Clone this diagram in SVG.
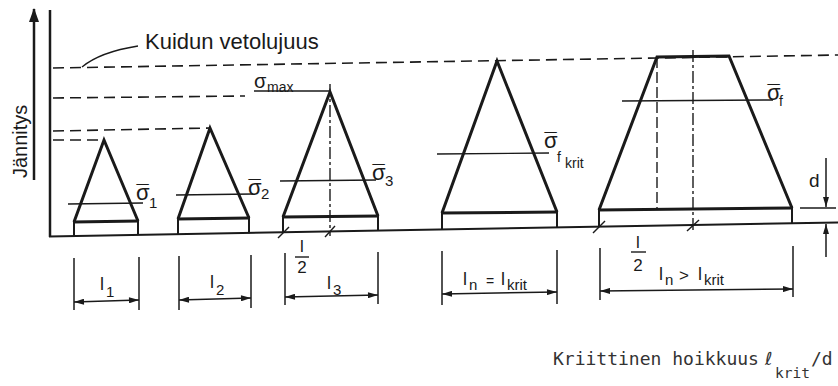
<svg xmlns="http://www.w3.org/2000/svg" width="838" height="386" viewBox="0 0 838 386">
<style>
.sh{fill:none;stroke:#1a1a1a;stroke-width:3;stroke-linejoin:miter}
.band{fill:none;stroke:#1a1a1a;stroke-width:2}
.thin{fill:none;stroke:#1a1a1a;stroke-width:1.4}
.dash{fill:none;stroke:#1a1a1a;stroke-width:1.6;stroke-dasharray:11 6}
.ctr{fill:none;stroke:#1a1a1a;stroke-width:1.4;stroke-dasharray:12 3 3 3}
.vd{fill:none;stroke:#1a1a1a;stroke-width:1.4;stroke-dasharray:11 4}
.ext{fill:none;stroke:#1a1a1a;stroke-width:1.5}
.dim{fill:none;stroke:#1a1a1a;stroke-width:1.5;marker-start:url(#ah);marker-end:url(#ah)}
.t{font-family:"Liberation Sans",Arial,sans-serif;fill:#1a1a1a}
.sg{font-family:"Liberation Sans",Arial,sans-serif;fill:#1a1a1a;font-size:22px}
.mb{font-family:"Liberation Sans",Arial,sans-serif;fill:#1a1a1a;font-size:22px;text-anchor:middle}
.mono{font-family:"DejaVu Sans Mono","Liberation Mono",monospace;fill:#333}
</style>
<defs>
<marker id="ah" viewBox="0 0 10 6" refX="10" refY="3" markerWidth="11" markerHeight="6" markerUnits="userSpaceOnUse" orient="auto-start-reverse">
<path d="M0,0 L10,3 L0,6 z" fill="#1a1a1a"/>
</marker>
<marker id="big" viewBox="0 0 14 10" refX="13" refY="5" markerWidth="15" markerHeight="10" markerUnits="userSpaceOnUse" orient="auto">
<path d="M0,0 L14,5 L0,10 z" fill="#1a1a1a"/>
</marker>
</defs>
<rect width="838" height="386" fill="#fff"/>

<g id="axes">
<line x1="34" y1="180" x2="34" y2="9" stroke="#1a1a1a" stroke-width="2.5" marker-end="url(#big)"/>
<text class="t" font-size="20" transform="translate(27,178) rotate(-90)">Jännitys</text>
<line x1="50" y1="10" x2="50" y2="237" stroke="#1a1a1a" stroke-width="2.5"/>
<line x1="49" y1="236.5" x2="838" y2="222.5" stroke="#1a1a1a" stroke-width="2"/>
</g>

<g id="levels">
<line class="dash" x1="53" y1="68" x2="838" y2="55"/>
<line class="dash" x1="53" y1="98" x2="245" y2="96"/>
<line class="dash" x1="53" y1="131" x2="210" y2="128"/>
<line class="dash" x1="53" y1="140" x2="102" y2="140"/>
<text class="t" font-size="22" x="145" y="49">Kuidun vetolujuus</text>
<text class="t" font-size="20" x="254" y="88">σ</text>
<text class="t" font-size="14" x="267" y="92">max</text>
<line class="thin" x1="254" y1="91" x2="330" y2="91"/>
</g>

<g id="fibre1">
<polyline class="sh" points="74,222 104,140 138,221"/>
<line class="sh" x1="73" y1="222" x2="139" y2="221"/>
<line class="band" x1="74" y1="222" x2="74" y2="236"/>
<line class="band" x1="138" y1="221" x2="138" y2="235"/>
<line class="thin" x1="68" y1="204" x2="143" y2="203"/>
<text class="sg" x="136" y="200">σ</text>
<text class="mb" x="142.5" y="201">¯</text>
<text class="t" font-size="15" x="149" y="208">1</text>
</g>

<g id="fibre2">
<polyline class="sh" points="178,219 210,128 249,218"/>
<line class="sh" x1="177" y1="219" x2="250" y2="218"/>
<line class="band" x1="178" y1="219" x2="178" y2="234.5"/>
<line class="band" x1="249" y1="218" x2="249" y2="233.2"/>
<line class="thin" x1="176" y1="195" x2="253" y2="194"/>
<text class="sg" x="248" y="195">σ</text>
<text class="mb" x="254.5" y="196">¯</text>
<text class="t" font-size="15" x="261" y="199">2</text>
</g>

<g id="fibre3">
<polyline class="sh" points="283,217 330,92 378,216"/>
<line class="sh" x1="282" y1="217" x2="379" y2="216"/>
<line class="band" x1="283" y1="217" x2="283" y2="232.6"/>
<line class="band" x1="378" y1="216" x2="378" y2="231"/>
<line class="ctr" x1="330" y1="84" x2="330" y2="236"/>
<line class="thin" x1="280" y1="181" x2="376" y2="180"/>
<text class="sg" x="372" y="180">σ</text>
<text class="mb" x="378.5" y="181">¯</text>
<text class="t" font-size="15" x="385" y="186">3</text>
<line class="thin" x1="278" y1="238" x2="289" y2="227"/>
<line class="thin" x1="325" y1="237" x2="335" y2="226"/>
<text class="t" font-size="17" x="302" y="252" text-anchor="middle">l</text>
<line class="thin" x1="295" y1="257" x2="309" y2="257"/>
<text class="t" font-size="17" x="302" y="273" text-anchor="middle">2</text>
</g>

<g id="fibre4">
<polyline class="sh" points="442,213 497,61 557,212"/>
<line class="sh" x1="441" y1="213" x2="558" y2="212"/>
<line class="band" x1="442" y1="213" x2="442" y2="229.8"/>
<line class="band" x1="557" y1="212" x2="557" y2="227.8"/>
<line class="thin" x1="437" y1="154" x2="549" y2="153"/>
<text class="sg" x="544" y="148">σ</text>
<text class="mb" x="550.5" y="149">¯</text>
<text class="t" font-size="14" x="557" y="162">f</text>
<text class="t" font-size="14" x="565" y="168">krit</text>
</g>

<g id="fibre5">
<polyline class="sh" points="599,210 657,57 729,56 792,208"/>
<line class="sh" x1="598" y1="210" x2="793" y2="208"/>
<line class="band" x1="599" y1="210" x2="599" y2="226.7"/>
<line class="band" x1="792" y1="208" x2="792" y2="223.7"/>
<line class="vd" x1="657" y1="57" x2="657" y2="210"/>
<line class="ctr" x1="693" y1="50" x2="693" y2="231"/>
<line class="thin" x1="622" y1="101" x2="773" y2="100"/>
<text class="sg" x="767" y="100">σ</text>
<text class="mb" x="773.5" y="101">¯</text>
<text class="t" font-size="14" x="779" y="106">f</text>
<line class="thin" x1="593" y1="233" x2="605" y2="221"/>
<line class="thin" x1="687" y1="231" x2="699" y2="220"/>
<text class="t" font-size="17" x="638" y="248" text-anchor="middle">l</text>
<line class="thin" x1="631" y1="252" x2="646" y2="252"/>
<text class="t" font-size="17" x="638" y="271" text-anchor="middle">2</text>
<line class="thin" x1="800" y1="208" x2="836" y2="208"/>
<text class="t" font-size="19" x="809" y="187">d</text>
</g>

<g id="connectors">
<path class="thin" d="M138,46 Q100,52 82,67"/>
<line class="ext" x1="74" y1="258" x2="74" y2="310"/>
<line class="ext" x1="139" y1="257" x2="139" y2="310"/>
<line class="dim" x1="74" y1="302" x2="139" y2="300"/>
<line class="ext" x1="179" y1="256" x2="179" y2="310"/>
<line class="ext" x1="251" y1="255" x2="251" y2="308"/>
<line class="dim" x1="179" y1="300" x2="251" y2="298"/>
<line class="ext" x1="285" y1="253" x2="285" y2="305"/>
<line class="ext" x1="378" y1="252" x2="378" y2="304"/>
<line class="dim" x1="285" y1="297" x2="378" y2="295"/>
<line class="ext" x1="442" y1="251" x2="442" y2="305"/>
<line class="ext" x1="557" y1="250" x2="557" y2="304"/>
<line class="dim" x1="442" y1="294" x2="557" y2="292"/>
<line class="ext" x1="600" y1="248" x2="600" y2="300"/>
<line class="ext" x1="793" y1="246" x2="793" y2="297"/>
<line class="dim" x1="600" y1="291" x2="793" y2="289"/>
<line x1="826" y1="158" x2="826" y2="207" stroke="#1a1a1a" stroke-width="1.5" marker-end="url(#ah)"/>
<line x1="826" y1="257" x2="826" y2="224" stroke="#1a1a1a" stroke-width="1.5" marker-end="url(#ah)"/>
</g>

<g id="labels">
<text class="t" font-size="18" x="100" y="290">l</text>
<text class="t" font-size="15" x="106" y="297">1</text>
<text class="t" font-size="18" x="210" y="288">l</text>
<text class="t" font-size="15" x="216" y="295">2</text>
<text class="t" font-size="18" x="327" y="289">l</text>
<text class="t" font-size="15" x="333" y="295">3</text>
<text class="t" font-size="18" x="463" y="285">l</text>
<text class="t" font-size="15" x="469" y="290">n</text>
<text class="t" font-size="14" x="486" y="286">=</text>
<text class="t" font-size="18" x="501" y="285">l</text>
<text class="t" font-size="15" x="507" y="290">krit</text>
<text class="t" font-size="18" x="659" y="280">l</text>
<text class="t" font-size="15" x="665" y="285">n</text>
<text class="t" font-size="17" x="679" y="281">&gt;</text>
<text class="t" font-size="18" x="698" y="280">l</text>
<text class="t" font-size="15" x="704" y="285">krit</text>
<text class="mono" font-size="18" x="553" y="365">Kriittinen hoikkuus</text>
<text font-family="DejaVu Sans,sans-serif" font-size="18" fill="#333" x="765" y="365">ℓ</text>
<text class="mono" font-size="14.5" x="775" y="378">krit</text>
<text class="mono" font-size="18" x="811" y="365">/d</text>
</g>
</svg>
